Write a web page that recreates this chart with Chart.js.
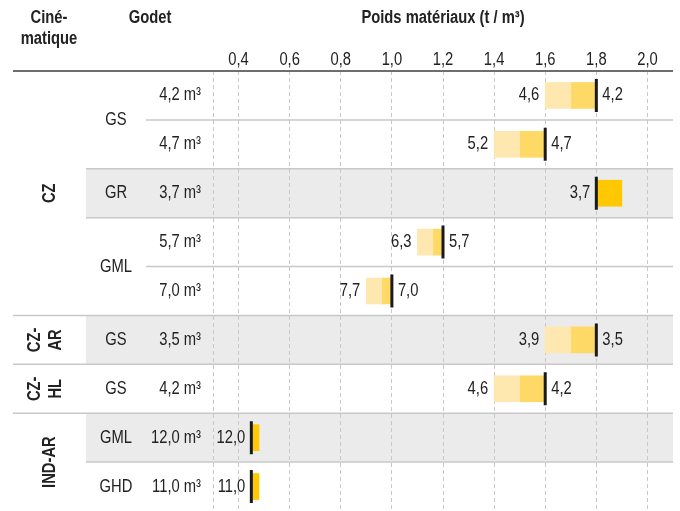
<!DOCTYPE html>
<html>
<head>
<meta charset="utf-8">
<script src="https://cdn.jsdelivr.net/npm/chart.js@4.4.1/dist/chart.umd.min.js"></script>
<style>
  body { margin: 0; background: #fff; }
  #wrap { width: 680px; height: 511px; }
</style>
</head>
<body>
<div id="wrap"><canvas id="chart" width="680" height="511"></canvas></div>
<script>
// Poids matériaux par godet
const FONT = "'Liberation Sans', Arial, sans-serif";
const NARROW = 0.82; // squeeze to get a narrow face

const capacities = ['4,2 m³', '4,7 m³', '3,7 m³', '5,7 m³', '7,0 m³', '3,5 m³', '4,2 m³', '12,0 m³', '11,0 m³'];
// godet groups: [label, firstRow, lastRow]
const godets = [['GS', 0, 1], ['GR', 2, 2], ['GML', 3, 4], ['GS', 5, 5], ['GS', 6, 6], ['GML', 7, 7], ['GHD', 8, 8]];
const cinematiques = [[['CZ'], 0, 4], [['CZ-', 'AR'], 5, 5], [['CZ-', 'HL'], 6, 6], [['IND-AR'], 7, 8]];
const shadedRows = [2, 5, 7];

// densities (t / m3)
const lightStart = [1.6, 1.4, null, 1.1, 0.9, 1.6, 1.4, null, null];
const lightEnd = [1.7, 1.5, null, 1.16, 0.96, 1.7, 1.5, null, null];
const markers = [1.8, 1.6, 1.8, 1.2, 1.0, 1.8, 1.6, 0.45, 0.45];
const solidEnd = [null, null, 1.9, null, null, null, null, 0.48, 0.48];

// volumes shown beside the bars
const leftValues = [4.6, 5.2, 3.7, 6.3, 7.7, 3.9, 4.6, 12.0, 11.0];
const rightValues = [4.2, 4.7, null, 5.7, 7.0, 3.5, 4.2, null, null];

const xTicks = [0.3, 0.4, 0.6, 0.8, 1.0, 1.2, 1.4, 1.6, 1.8, 2.0];
const xTitle = 'Poids matériaux (t / m³)';

const fmt = v => v.toFixed(1).replace('.', ',');

const rowIds = capacities.map((c, i) => 'r' + i);

const lightData = lightStart.map((s, i) => s == null ? null : [s, lightEnd[i]]);
const mediumData = lightEnd.map((s, i) => s == null ? null : [s, markers[i]]);
const solidData = solidEnd.map((e, i) => e == null ? null : [markers[i], e]);

function text(ctx, str, x, y, align, bold, rotate) {
  ctx.save();
  ctx.translate(x, y);
  if (rotate) ctx.rotate(-Math.PI / 2);
  ctx.scale(NARROW, 1);
  ctx.font = (bold ? 'bold ' : '') + '18px ' + FONT;
  ctx.textAlign = align;
  ctx.textBaseline = 'middle';
  ctx.fillStyle = '#222';
  ctx.fillText(str, 0, 0);
  ctx.restore();
}

const tablePlugin = {
  id: 'table',
  beforeDraw(chart) {
    const ctx = chart.ctx;
    const y = chart.scales.y;
    const area = chart.chartArea;
    const half = (y.getPixelForValue(1) - y.getPixelForValue(0)) / 2;
    ctx.save();
    ctx.fillStyle = '#ebebeb';
    shadedRows.forEach(r => {
      const c = y.getPixelForValue(r);
      ctx.fillRect(86, c - half, area.right - 86, half * 2);
    });
    ctx.restore();
  },
  afterDatasetsDraw(chart) {
    const ctx = chart.ctx;
    const x = chart.scales.x;
    const y = chart.scales.y;
    const area = chart.chartArea;
    const half = (y.getPixelForValue(1) - y.getPixelForValue(0)) / 2;
    ctx.save();

    // row separators
    const sepStart = [146, 86, 86, 146, 13, 13, 13, 86];
    ctx.strokeStyle = '#c8c8c8';
    ctx.lineWidth = 1.5;
    sepStart.forEach((sx, i) => {
      const sy = y.getPixelForValue(i) + half;
      ctx.beginPath();
      ctx.moveTo(sx, sy);
      ctx.lineTo(area.right, sy);
      ctx.stroke();
    });

    // header rule
    ctx.strokeStyle = '#6e6e6e';
    ctx.lineWidth = 2;
    ctx.beginPath();
    ctx.moveTo(13, area.top);
    ctx.lineTo(area.right, area.top);
    ctx.stroke();
    ctx.restore();

    // axis title and tick labels, from the x scale
    text(ctx, xTitle, (area.left + area.right) / 2, 18, 'center', true);
    x.ticks.forEach(t => {
      if (t.value < 0.35) return;
      text(ctx, fmt(t.value), x.getPixelForValue(t.value), 60, 'center', false);
    });

    // header labels
    text(ctx, 'Ciné-', 49, 18, 'center', true);
    text(ctx, 'matique', 49, 39, 'center', true);
    text(ctx, 'Godet', 150, 18, 'center', true);

    // capacity column
    capacities.forEach((c, i) => text(ctx, c, 201, y.getPixelForValue(i), 'right', false));

    // godet column
    godets.forEach(([g, a, b]) => {
      const cy = (y.getPixelForValue(a) + y.getPixelForValue(b)) / 2;
      text(ctx, g, 116, cy, 'center', false);
    });

    // cinematique column, rotated
    cinematiques.forEach(([lines, a, b]) => {
      const cy = (y.getPixelForValue(a) + y.getPixelForValue(b)) / 2;
      const xs = lines.length === 1 ? [50] : [35, 56];
      lines.forEach((t, k) => text(ctx, t, xs[k], cy, 'center', true, true));
    });

    // value labels
    leftValues.forEach((v, i) => {
      const start = lightStart[i] != null ? lightStart[i] : markers[i];
      const cy = y.getPixelForValue(i);
      text(ctx, fmt(v), x.getPixelForValue(start) - 6, cy, 'right', false);
      if (rightValues[i] != null) {
        text(ctx, fmt(rightValues[i]), x.getPixelForValue(markers[i]) + 6, cy, 'left', false);
      }
    });
  }
};

new Chart(document.getElementById('chart'), {
  type: 'bar',
  data: {
    labels: rowIds,
    datasets: [
      {
        type: 'line',
        data: markers,
        showLine: false,
        pointStyle: 'line',
        pointRotation: 90,
        pointRadius: 16.5,
        pointHoverRadius: 16.5,
        pointBorderWidth: 3,
        borderColor: '#1a1a1a',
        order: 0
      },
      { data: lightData, backgroundColor: '#fee8b0', order: 1 },
      { data: mediumData, backgroundColor: '#ffd966', order: 1 },
      { data: solidData, backgroundColor: '#ffc800', order: 1 }
    ]
  },
  options: {
    indexAxis: 'y',
    responsive: false,
    animation: false,
    events: [],
    layout: { autoPadding: false, padding: { left: 213, right: 7, top: 0, bottom: -2 } },
    datasets: {
      bar: { grouped: false, barThickness: 26, borderWidth: 0 }
    },
    plugins: {
      legend: { display: false },
      tooltip: { enabled: false }
    },
    scales: {
      x: {
        position: 'top',
        min: 0.3,
        max: 2.1,
        afterBuildTicks: s => { s.ticks = xTicks.map(v => ({ value: v })); },
        afterFit: s => { s.height = 71; },
        grid: {
          color: '#c8c8c8',
          lineWidth: 1,
          drawTicks: false
        },
        border: { display: false, dash: [4, 3] },
        ticks: { display: false }
      },
      y: {
        display: false
      }
    }
  },
  plugins: [tablePlugin]
});
</script>
</body>
</html>
